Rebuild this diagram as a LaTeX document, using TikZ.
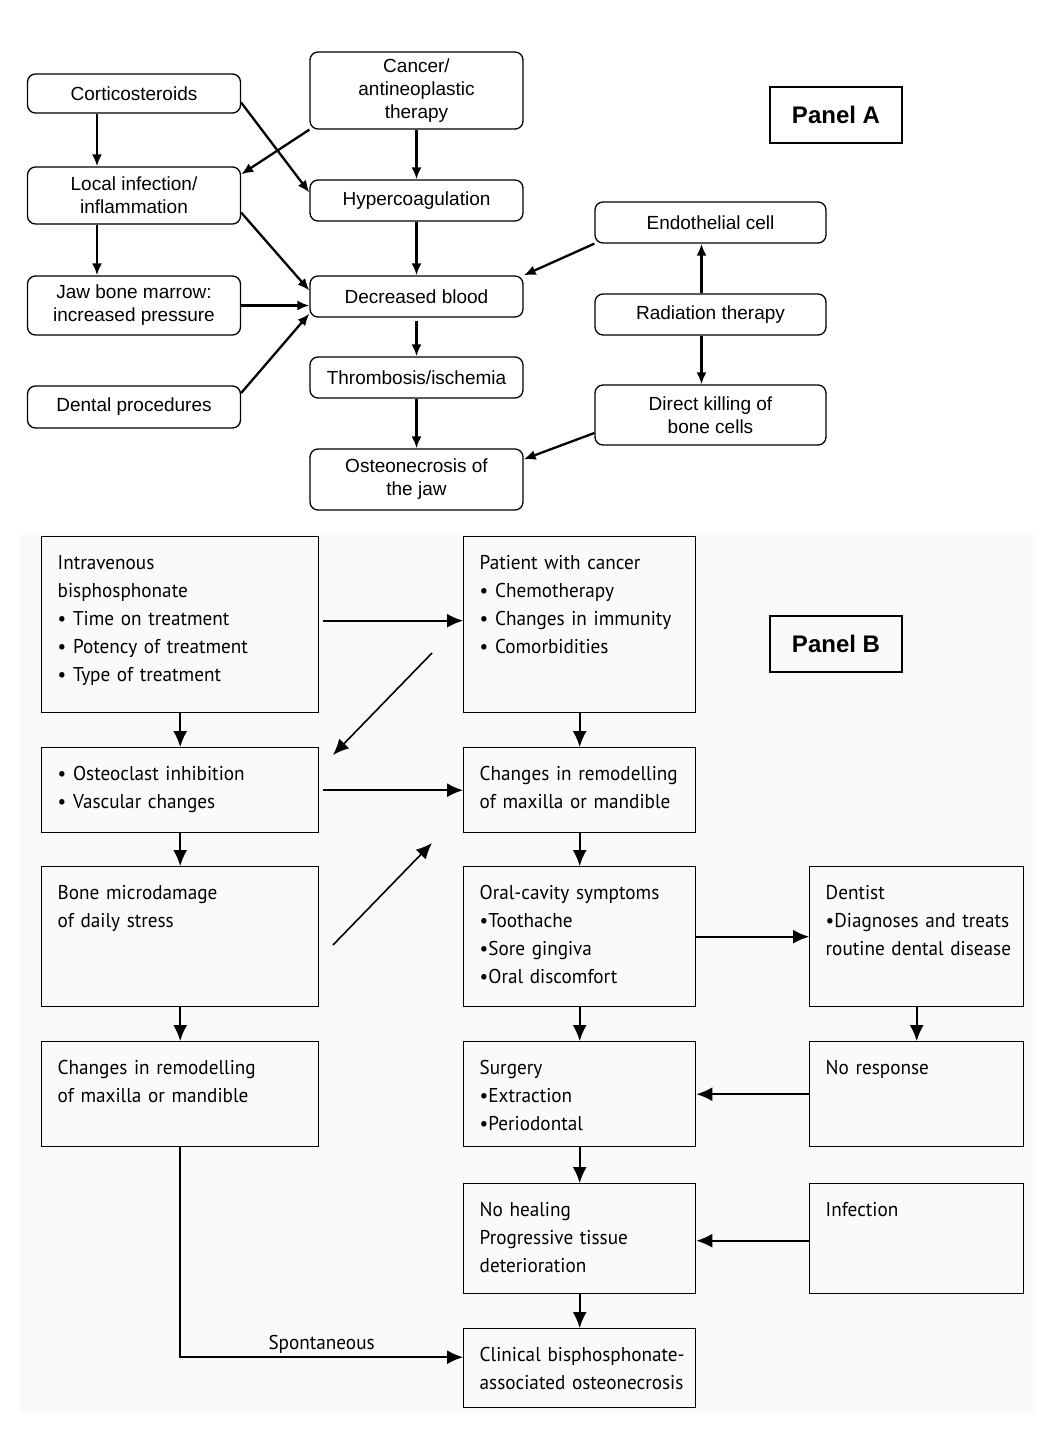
\documentclass[tikz,border=0pt]{standalone}
\usepackage{fontspec}
\setmainfont{Liberation Sans}
\newfontfamily\lancetfont[FakeStretch=0.96]{PT Sans}
\usetikzlibrary{arrows.meta,positioning,calc}
\begin{document}
\begin{tikzpicture}[x=1pt,y=-1pt,
  abox/.style={draw, line width=1.3pt, rounded corners=8pt, align=center, minimum width=213pt, font=\fontsize{19}{23}\selectfont},
  aarrow/.style={line width=2.3pt, -{Latex[length=12pt,width=10pt]}},
  bbox/.style={draw, line width=1.4pt, anchor=north west, align=left, inner xsep=8pt, inner ysep=0pt, text height=33pt, execute at begin node={\leftskip=8pt}, font=\lancetfont\fontsize{20}{28}\selectfont},
  barrow/.style={line width=1.6pt, -{Latex[length=16pt,width=14pt]}},
  plabel/.style={draw, line width=1.5pt, minimum width=132pt, minimum height=56pt, font=\bfseries\fontsize{24}{28}\selectfont}]
\useasboundingbox (0,0) rectangle (1050,1433);
\fill[black!2] (20,533) rectangle (1035,1412);

\node[abox, minimum height=39pt] (cort) at (134,93.5) {Corticosteroids};
\node[abox, minimum height=77pt] (canc) at (416.5,90.5) {Cancer/\\antineoplastic\\therapy};
\node[abox, minimum height=57pt] (loc) at (134,195.5) {Local infection/\\inflammation};
\node[abox, minimum height=41pt] (hyp) at (416.5,200.5) {Hypercoagulation};
\node[abox, minimum height=41pt, minimum width=231pt] (endo) at (710.5,222.5) {Endothelial cell};
\node[abox, minimum height=59pt] (jaw) at (134,305.5) {Jaw bone marrow:\\increased pressure};
\node[abox, minimum height=41pt] (dec) at (416.5,296.5) {Decreased blood};
\node[abox, minimum height=41pt, minimum width=231pt] (rad) at (710.5,314.5) {Radiation therapy};
\node[abox, minimum height=42pt] (dent) at (134,407) {Dental procedures};
\node[abox, minimum height=41pt] (thr) at (416.5,377.5) {Thrombosis/ischemia};
\node[abox, minimum height=60pt, minimum width=231pt] (dir) at (710.5,415) {Direct killing of\\bone cells};
\node[abox, minimum height=61pt] (ost) at (416.5,479.5) {Osteonecrosis of\\the jaw};
\node[plabel] (panela) at (836,115) {Panel A};

\draw[aarrow] ([xshift=-37pt]cort.south) -- ([xshift=-37pt]loc.north);
\draw[aarrow] ([xshift=-37pt]loc.south) -- ([xshift=-37pt]jaw.north);
\draw[aarrow] (canc.south west) -- ([yshift=-8pt]loc.north east);
\draw[aarrow] ([yshift=-9pt]cort.east) -- ([yshift=8pt]hyp.west);
\draw[aarrow] (canc) -- (hyp);
\draw[aarrow] (hyp) -- (dec);
\draw[aarrow] ([yshift=-17pt]loc.east) -- ([yshift=6pt]dec.west);
\draw[aarrow] (jaw.east) -- (jaw.east -| dec.west);
\draw[aarrow] ([yshift=14pt]dent.east) -- ([yshift=4pt]dec.south west);
\draw[aarrow, shorten <=3pt] (dec) -- (thr);
\draw[aarrow] (thr) -- (ost);
\draw[aarrow] (endo.south west) -- (dec.north east);
\draw[aarrow] ([xshift=-9pt]rad.north) -- ([xshift=-9pt]endo.south);
\draw[aarrow] ([xshift=-9pt]rad.south) -- ([xshift=-9pt]dir.north);
\draw[aarrow] ([yshift=-18pt]dir.west) -- ([yshift=-11pt]ost.north east);

\node[bbox, text width=261pt, text depth=143pt] (iv) at (41,536) {Intravenous\\bisphosphonate\\\textbullet\ Time on treatment\\\textbullet\ Potency of treatment\\\textbullet\ Type of treatment};
\node[bbox, text width=216pt, text depth=143pt] (pat) at (463,536) {Patient with cancer\\\textbullet\ Chemotherapy\\\textbullet\ Changes in immunity\\\textbullet\ Comorbidities};
\node[bbox, text width=261pt, text depth=52pt] (osc) at (41,747) {\textbullet\ Osteoclast inhibition\\\textbullet\ Vascular changes};
\node[bbox, text width=216pt, text depth=52pt] (chr) at (463,747) {Changes in remodelling\\of maxilla or mandible};
\node[bbox, text width=261pt, text depth=107pt] (mic) at (41,866) {Bone microdamage\\of daily stress};
\node[bbox, text width=216pt, text depth=107pt] (orl) at (463,866) {Oral-cavity symptoms\\\textbullet Toothache\\\textbullet Sore gingiva\\\textbullet Oral discomfort};
\node[bbox, text width=198pt, text depth=107pt] (den) at (809,866) {Dentist\\\textbullet Diagnoses and treats\\routine dental disease};
\node[bbox, text width=261pt, text depth=72pt] (clr) at (41,1041) {Changes in remodelling\\of maxilla or mandible};
\node[bbox, text width=216pt, text depth=72pt] (sur) at (463,1041) {Surgery\\\textbullet Extraction\\\textbullet Periodontal};
\node[bbox, text width=198pt, text depth=72pt] (nor) at (809,1041) {No response};
\node[bbox, text width=216pt, text depth=77pt] (noh) at (463,1183) {No healing\\Progressive tissue\\deterioration};
\node[bbox, text width=198pt, text depth=77pt] (inf) at (809,1183) {Infection};
\node[bbox, text width=216pt, text depth=46pt] (cli) at (463,1328) {Clinical bisphosphonate-\\associated osteonecrosis};
\node[plabel] (panelb) at (836,644) {Panel B};

\coordinate (pat-osc) at (432,653);
\coordinate (osc-end) at (333,755);
\coordinate (mic-chr) at (333,945);
\coordinate (chr-end) at (432,843);

\draw[barrow, shorten <=4pt] ([yshift=4pt]iv.east) -- ([yshift=4pt]pat.west);
\draw[barrow] (pat-osc) -- (osc-end);
\draw[barrow] (iv.south) -- (osc.north);
\draw[barrow, shorten <=4pt] (osc.east) -- (chr.west);
\draw[barrow] (pat.south) -- (chr.north);
\draw[barrow] (mic-chr) -- (chr-end);
\draw[barrow] (osc.south) -- (mic.north);
\draw[barrow] (chr.south) -- (orl.north);
\draw[barrow] (orl.east) -- (den.west);
\draw[barrow] (mic.south) -- (clr.north);
\draw[barrow] (orl.south) -- (sur.north);
\draw[barrow] (den.south) -- (nor.north);
\draw[barrow] (nor.west) -- (sur.east);
\draw[barrow] (sur.south) -- (noh.north);
\draw[barrow] ([yshift=-2pt]inf.west) -- ([yshift=-2pt]noh.east);
\draw[barrow] (noh.south) -- (cli.north);
\draw[barrow] (clr.south) |- node[pos=0.75, above, font=\lancetfont\fontsize{20}{28}\selectfont] (spon) {Spontaneous} ([yshift=11pt]cli.west);
\end{tikzpicture}
\end{document}
